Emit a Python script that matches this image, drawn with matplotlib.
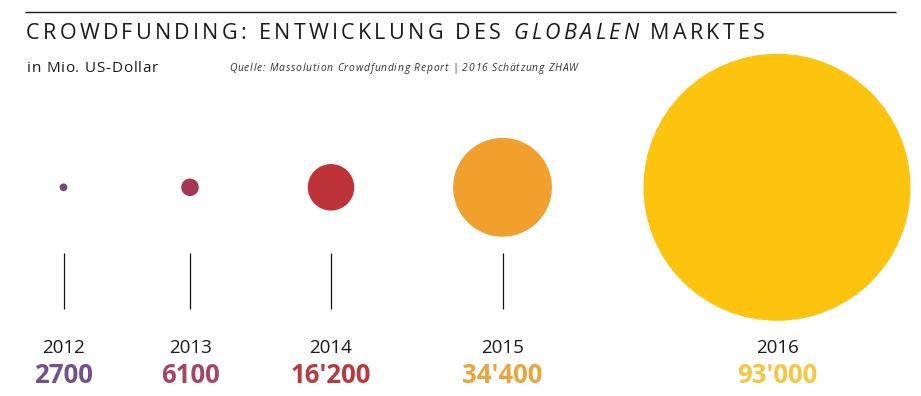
import matplotlib
matplotlib.use("Agg")
import matplotlib.pyplot as plt
from matplotlib.patches import Circle

# ---- data ----
years = ["2012", "2013", "2014", "2015", "2016"]
values = [2700, 6100, 16200, 34400, 93000]
value_labels = ["2700", "6100", "16'200", "34'400", "93'000"]
circle_colors = ["#6e4a80", "#a53456", "#be3339", "#f1a02d", "#fcc30f"]
text_colors = ["#74508a", "#a5455f", "#b9393e", "#eda33b", "#f6c640"]
show_stem = [True, True, True, True, False]

title_parts = [("CROWDFUNDING: ENTWICKLUNG DES ", "normal"),
               ("GLOBALEN", "italic"),
               (" MARKTES", "normal")]
subtitle = "in Mio. US-Dollar"
source = "Quelle: Massolution Crowdfunding Report | 2016 Schätzung ZHAW"

# ---- layout (pixel coordinates) ----
W, H = 921, 396
xpos = [63.5, 190, 331, 502.5, 777]
cy = 187.3
rscale = 133.5 / 93000.0
FONT = "Open Sans"

fig = plt.figure(figsize=(W / 100, H / 100), dpi=100)
ax = fig.add_axes([0, 0, 1, 1])
ax.set_xlim(0, W)
ax.set_ylim(H, 0)
ax.axis("off")

renderer = fig.canvas.get_renderer()


def tracked_text(chars_styles, x0, x1, y, size, color, weight="normal"):
    """Draw text char by char, spreading to span x0..x1."""
    items = []
    for s, style in chars_styles:
        for ch in s:
            items.append((ch, style))
    widths = []
    for ch, style in items:
        if ch == " ":
            widths.append(size * 100 / 72 * 0.26)
            continue
        t = ax.text(0, 0, ch, fontsize=size, family=FONT, style=style,
                    weight=weight)
        bb = t.get_window_extent(renderer)
        widths.append(bb.width)
        t.remove()
    total = sum(widths)
    track = (x1 - x0 - total) / (len(items) - 1)
    x = x0
    for (ch, style), w in zip(items, widths):
        if ch != " ":
            ax.text(x, y, ch, fontsize=size, family=FONT, style=style,
                    weight=weight, color=color, va="baseline", ha="left")
        x += w + track


# top rule
ax.plot([25, 896], [11.7, 11.7], color="#1a1a1a", lw=1.0, solid_capstyle="butt")

# title
tracked_text(title_parts, 26, 765, 39, 15.5, "#1a1a1a", weight="normal")

# subtitle
tracked_text([(subtitle, "normal")], 26.7, 158, 71.7, 11, "#1a1a1a")

# source
tracked_text([(source, "italic")], 229, 578, 70.7, 7.4, "#333333")

# circles, stems and labels
for x, v, yr, lab, cc, tc, st in zip(xpos, values, years, value_labels,
                                     circle_colors, text_colors, show_stem):
    ax.add_patch(Circle((x, cy), v * rscale, facecolor=cc, edgecolor="none"))
    if st:
        ax.plot([x, x], [253, 309], color="#111111", lw=0.9,
                solid_capstyle="butt")
    ax.text(x, 353.3, yr, fontsize=13.5, family=FONT, color="#1a1a1a",
            ha="center", va="baseline")
    ax.text(x, 383.3, lab, fontsize=18.5, family=FONT, weight="bold",
            color=tc, ha="center", va="baseline")

fig.savefig("out.png", dpi=100)
